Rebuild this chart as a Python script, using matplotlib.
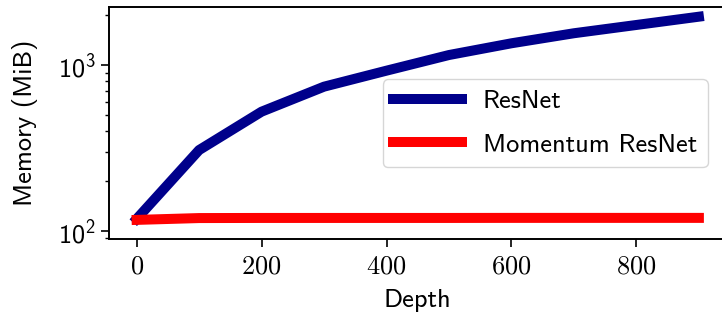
import numpy as np
import matplotlib
matplotlib.use('Agg')
import matplotlib.pyplot as plt
from matplotlib.ticker import FuncFormatter

# ── Data ──────────────────────────────────────────────────────────────────────
depth      = [0, 100, 200, 300, 400, 500, 600, 700, 800, 900]
mem_resnet = [118, 307, 523, 740, 924, 1148, 1351, 1553, 1742, 1954]
mem_moment = [116.5, 119.5, 119.7, 119.7, 119.7, 119.7, 119.8, 119.8, 119.8, 119.8]

# ── Style ─────────────────────────────────────────────────────────────────────
plt.rcParams['mathtext.fontset'] = 'cm'
plt.rcParams['font.family'] = ['cmss10', 'DejaVu Sans']
plt.rcParams['axes.formatter.use_mathtext'] = True
FS = 19

fig = plt.figure(figsize=(7.22, 3.20), dpi=100)
ax = fig.add_axes([108.5 / 722, (320 - 239.3) / 320,
                   (727 - 108.5) / 722, (239.3 - 7.3) / 320])

ax.plot(depth, mem_resnet, color='darkblue', lw=7.2, label='ResNet')
ax.plot(depth, mem_moment, color='red', lw=7.2, label='Momentum ResNet')

ax.set_yscale('log')
ax.set_ylim(89, 2226)
ax.set_xlim(-45, 945)
ax.set_xticks([0, 200, 400, 600, 800])
ax.xaxis.set_major_formatter(FuncFormatter(lambda v, p: f'${int(v)}$'))

ax.tick_params(axis='both', which='major', labelsize=FS, length=5.5, width=1.2)
ax.tick_params(axis='x', which='major', pad=6)
ax.tick_params(axis='y', which='minor', length=3.2, width=1.0)
for s in ax.spines.values():
    s.set_linewidth(1.4)

ax.set_xlabel('Depth', fontsize=FS, labelpad=8)
ax.set_ylabel('Memory (MiB)', fontsize=FS, labelpad=14)

ax.legend(loc='center right', fontsize=FS, handlelength=2.6,
          labelspacing=0.75, borderaxespad=0.5, bbox_to_anchor=(0.99, 0.5))

plt.savefig('out.png', dpi=100)
